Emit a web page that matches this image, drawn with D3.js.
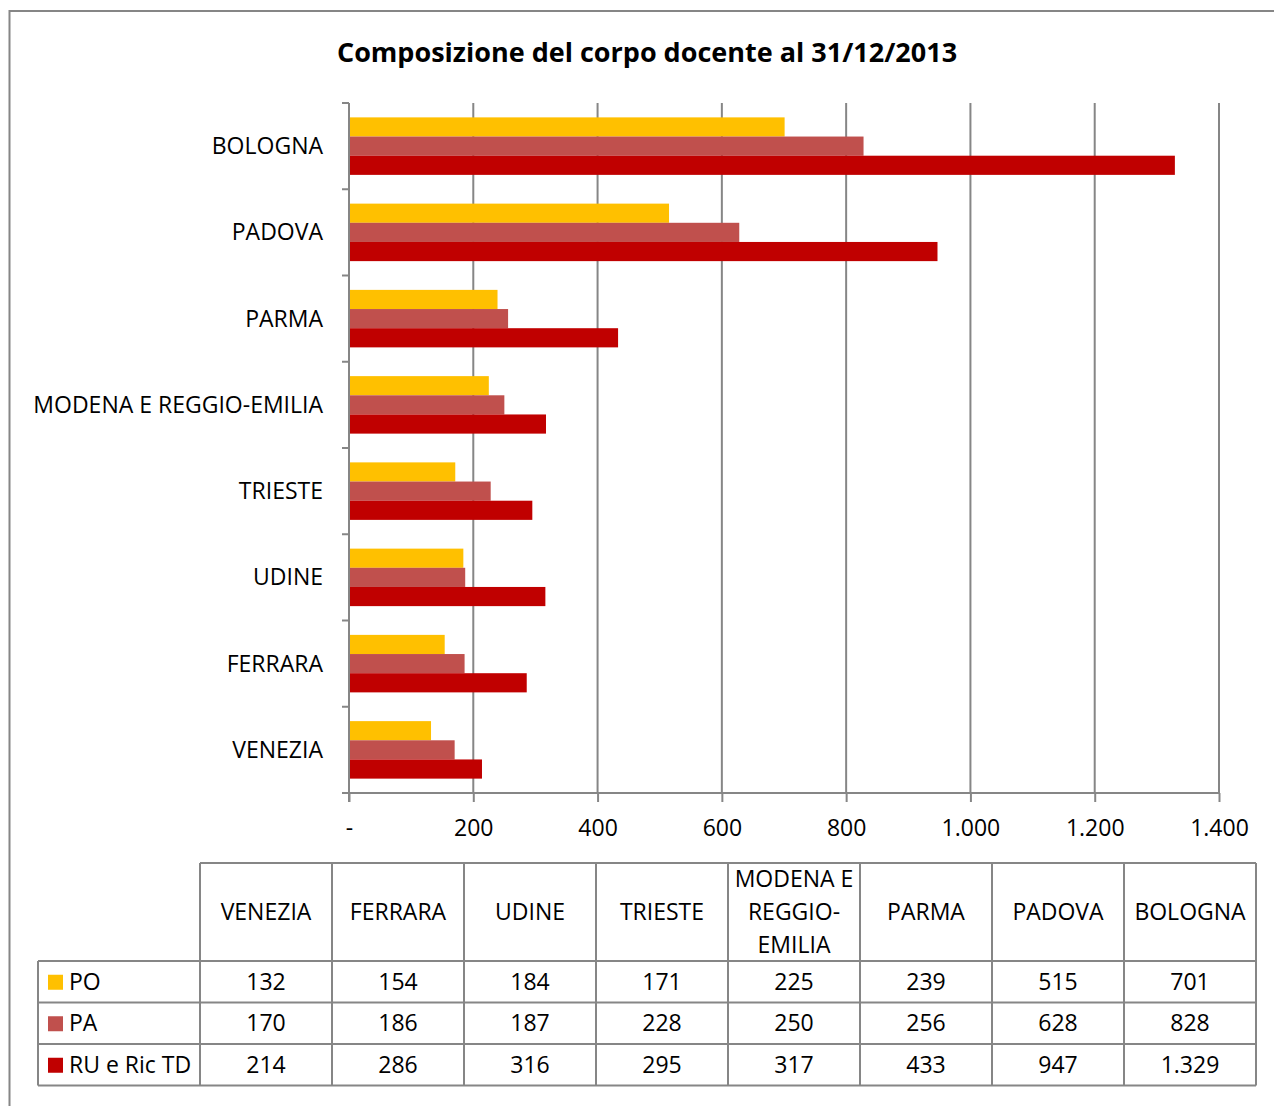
<!DOCTYPE html>
<html lang="it">
<head>
<meta charset="utf-8">
<title>Composizione del corpo docente</title>
<script src="https://d3js.org/d3.v7.min.js"></script>
<style>
  body { margin: 0; background: #fff; }
  text { font-family: "Open Sans", "Noto Sans", sans-serif; fill: #000; }
</style>
</head>
<body>
<div id="chart"></div>
<script>
// data, order as in the table (bottom -> top in the chart)
var atenei = ["VENEZIA", "FERRARA", "UDINE", "TRIESTE", "MODENA E REGGIO-EMILIA", "PARMA", "PADOVA", "BOLOGNA"];
var headerLines = [["VENEZIA"], ["FERRARA"], ["UDINE"], ["TRIESTE"], ["MODENA E", "REGGIO-", "EMILIA"], ["PARMA"], ["PADOVA"], ["BOLOGNA"]];
var serie = ["PO", "PA", "RU e Ric TD"];
var colori = ["#FFC000", "#C0504D", "#C00000"];
var valPO = [132, 154, 184, 171, 225, 239, 515, 701];
var valPA = [170, 186, 187, 228, 250, 256, 628, 828];
var valRU = [214, 286, 316, 295, 317, 433, 947, 1329];
var xTicks = [0, 200, 400, 600, 800, 1000, 1200, 1400];

var valori = [valPO, valPA, valRU];
var W = 1274, H = 1106;
var grey = "#868686";
var fs = "23px";
var fmt = function(d) { return d3.format(",")(d).replace(/,/g, "."); };

var svg = d3.select("#chart").append("svg")
  .attr("width", W).attr("height", H);

// outer frame
svg.append("rect")
  .attr("x", 9.5).attr("y", 11).attr("width", W + 20).attr("height", H + 20)
  .attr("fill", "none").attr("stroke", grey).attr("stroke-width", 2);

// title
svg.append("text")
  .attr("x", 647).attr("y", 62)
  .attr("text-anchor", "middle")
  .style("font-size", "27px").style("font-weight", "bold")
  .text("Composizione del corpo docente al 31/12/2013");

// ---------- plot ----------
var plot = { left: 349, right: 1219, top: 103, bottom: 793 };

var x = d3.scaleLinear().domain([0, 1400]).range([plot.left, plot.right]);
var y = d3.scaleBand().domain(atenei.slice().reverse()).range([plot.top, plot.bottom]);
// gap width 150% -> 3 bars + 1.5 bar of gap
var inner = d3.scaleBand().domain(serie).range([0, y.bandwidth()])
  .paddingInner(0).paddingOuter(0.75);

// gridlines
svg.append("g").selectAll("line")
  .data(xTicks.slice(1))
  .enter().append("line")
    .attr("x1", function(d) { return x(d); })
    .attr("x2", function(d) { return x(d); })
    .attr("y1", plot.top).attr("y2", plot.bottom)
    .attr("stroke", grey).attr("stroke-width", 2);

// bars
var rows = [];
atenei.forEach(function(a, i) {
  serie.forEach(function(s, j) {
    rows.push({ ateneo: a, serie: s, v: valori[j][i], c: colori[j] });
  });
});
svg.append("g").selectAll("rect")
  .data(rows)
  .enter().append("rect")
    .attr("x", x(0))
    .attr("y", function(d) { return y(d.ateneo) + inner(d.serie); })
    .attr("width", function(d) { return x(d.v) - x(0); })
    .attr("height", inner.bandwidth())
    .attr("fill", function(d) { return d.c; });

// x axis
var xAxis = d3.axisBottom(x).tickValues(xTicks).tickSize(9)
  .tickFormat(function(d) { return d === 0 ? "-" : fmt(d); });
var gx = svg.append("g")
  .attr("transform", "translate(0," + plot.bottom + ")")
  .call(xAxis);
gx.select(".domain").remove();
gx.selectAll("line").attr("stroke", grey).attr("stroke-width", 2);
gx.selectAll("text").style("font-size", fs).attr("y", 35).attr("dy", "0.35em");
svg.append("line")
  .attr("x1", plot.left - 7).attr("x2", plot.right)
  .attr("y1", plot.bottom).attr("y2", plot.bottom)
  .attr("stroke", grey).attr("stroke-width", 2);

// y axis: ticks on band boundaries
var bounds = d3.range(atenei.length + 1).map(function(i) { return plot.top + i * y.step(); });
svg.append("line")
  .attr("x1", plot.left).attr("x2", plot.left)
  .attr("y1", plot.top).attr("y2", plot.bottom + 9)
  .attr("stroke", grey).attr("stroke-width", 2);
svg.append("g").selectAll("line")
  .data(bounds)
  .enter().append("line")
    .attr("x1", plot.left - 7).attr("x2", plot.left)
    .attr("y1", function(d) { return d; }).attr("y2", function(d) { return d; })
    .attr("stroke", grey).attr("stroke-width", 2);
svg.append("g").selectAll("text")
  .data(atenei)
  .enter().append("text")
    .attr("x", 323)
    .attr("y", function(d) { return y(d) + y.bandwidth() / 2; })
    .attr("dy", "0.35em")
    .attr("text-anchor", "end")
    .style("font-size", fs)
    .text(function(d) { return d; });

// ---------- data table ----------
var tab = { left: 38, first: 200, right: 1256, top: 863, head: 961, rowH: 41.5 };
var col = d3.scaleBand().domain(atenei).range([tab.first, tab.right]);
var rowY = d3.scaleBand().domain(serie).range([tab.head, tab.head + 3 * tab.rowH]);
var tableBottom = tab.head + 3 * tab.rowH;
var tg = svg.append("g").attr("stroke", grey).attr("stroke-width", 2);

// horizontal lines
tg.append("line").attr("x1", tab.first).attr("x2", tab.right).attr("y1", tab.top).attr("y2", tab.top);
serie.forEach(function(s) {
  tg.append("line").attr("x1", tab.left).attr("x2", tab.right)
    .attr("y1", rowY(s)).attr("y2", rowY(s));
});
tg.append("line").attr("x1", tab.left).attr("x2", tab.right).attr("y1", tableBottom).attr("y2", tableBottom);
// vertical lines
tg.append("line").attr("x1", tab.left).attr("x2", tab.left).attr("y1", tab.head).attr("y2", tableBottom);
atenei.forEach(function(a) {
  tg.append("line").attr("x1", col(a)).attr("x2", col(a)).attr("y1", tab.top).attr("y2", tableBottom);
});
tg.append("line").attr("x1", tab.right).attr("x2", tab.right).attr("y1", tab.top).attr("y2", tableBottom);

// header
atenei.forEach(function(a, i) {
  var lines = headerLines[i];
  var cx = col(a) + col.bandwidth() / 2;
  var cy = (tab.top + tab.head) / 2;
  lines.forEach(function(l, k) {
    svg.append("text")
      .attr("x", cx)
      .attr("y", cy + (k - (lines.length - 1) / 2) * 33)
      .attr("dy", "0.35em")
      .attr("text-anchor", "middle")
      .style("font-size", fs)
      .text(l);
  });
});

// legend column + values
serie.forEach(function(s, j) {
  var cy = rowY(s) + rowY.bandwidth() / 2;
  svg.append("rect")
    .attr("x", 48).attr("y", cy - 7).attr("width", 15).attr("height", 15)
    .attr("fill", colori[j]);
  svg.append("text")
    .attr("x", 69).attr("y", cy).attr("dy", "0.35em")
    .style("font-size", fs)
    .text(s);
  atenei.forEach(function(a, i) {
    svg.append("text")
      .attr("x", col(a) + col.bandwidth() / 2)
      .attr("y", cy).attr("dy", "0.35em")
      .attr("text-anchor", "middle")
      .style("font-size", fs)
      .text(fmt(valori[j][i]));
  });
});
</script>
</body>
</html>
